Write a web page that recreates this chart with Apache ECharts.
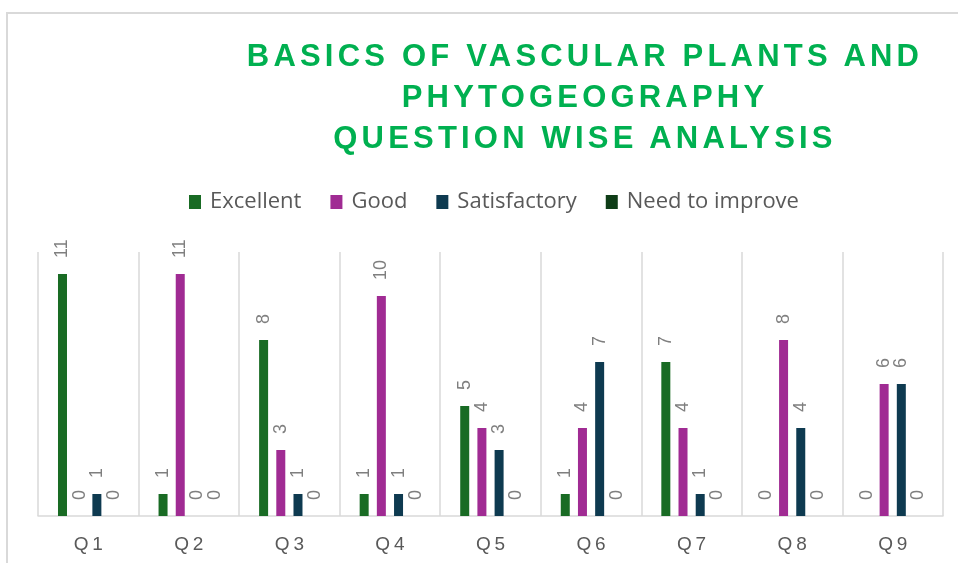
<!DOCTYPE html>
<html>
<head>
<meta charset="utf-8">
<script src="https://cdn.jsdelivr.net/npm/echarts@6/dist/echarts.min.js"></script>
<style>
  html, body { margin: 0; padding: 0; background: #fff; }
  #wrap { position: relative; width: 958px; height: 563px; overflow: hidden; }
  #chart { position: absolute; left: 0; top: 0; width: 958px; height: 563px; }
  #title {
    position: absolute; left: 181px; top: 35px; width: 800px;
    text-align: center; color: #00b050;
    font-family: "Liberation Sans", Arial, sans-serif; font-weight: bold;
    font-size: 31px; line-height: 41px; letter-spacing: 4.2px; padding-left: 4px;
    pointer-events: none; white-space: nowrap;
  }
</style>
</head>
<body>
<div id="wrap">
  <div id="chart"></div>
  <div id="title">BASICS OF VASCULAR PLANTS AND<br>PHYTOGEOGRAPHY<br>QUESTION WISE ANALYSIS</div>
</div>
<script>
const categories = ['Q1', 'Q2', 'Q3', 'Q4', 'Q5', 'Q6', 'Q7', 'Q8', 'Q9']
const excellent = [11, 1, 8, 1, 5, 1, 7, 0, 0]
const good = [0, 11, 3, 10, 4, 4, 4, 8, 6]
const satisfactory = [1, 0, 1, 1, 3, 7, 1, 4, 6]
const needToImprove = [0, 0, 0, 0, 0, 0, 0, 0, 0]

const seriesNames = ['Excellent', 'Good', 'Satisfactory', 'Need to improve']
const seriesData = [excellent, good, satisfactory, needToImprove]
const colors = ['#196b24', '#a02b93', '#0e3a50', '#0f3d17']

const myChart = echarts.init(document.getElementById('chart'))

const option = {
  animation: false,
  color: colors,
  graphic: [{
    type: 'rect',
    shape: { x: 7, y: 13, width: 1000, height: 600 },
    style: { fill: 'none', stroke: '#d9d9d9', lineWidth: 2 },
    silent: true
  }],
  legend: {
    top: 186,
    left: 184,
    itemWidth: 12,
    itemHeight: 14,
    itemGap: 29,
    icon: 'rect',
    textStyle: {
      color: '#595959',
      fontSize: 22,
      fontFamily: 'Open Sans',
      padding: [0, 0, 0, 4]
    },
    data: seriesNames
  },
  grid: {
    left: 38,
    right: 15,
    top: 252,
    bottom: 47
  },
  xAxis: {
    type: 'category',
    data: categories,
    axisLine: { lineStyle: { color: '#d9d9d9', width: 1.5 } },
    axisTick: { show: false },
    splitLine: { show: true, lineStyle: { color: '#d9d9d9', width: 1.5 } },
    axisLabel: {
      color: '#595959',
      fontSize: 19,
      fontFamily: 'Liberation Sans',
      margin: 19,
      formatter: (v) => v.split('').join('\u2009')
    }
  },
  yAxis: {
    type: 'value',
    min: 0,
    max: 12,
    show: false,
    splitLine: { show: false }
  },
  series: seriesNames.map((name, i) => ({
    name,
    type: 'bar',
    data: seriesData[i],
    barWidth: 9,
    barGap: '91%',
    label: {
      show: true,
      position: 'top',
      rotate: 90,
      align: 'left',
      verticalAlign: 'middle',
      distance: 16,
      color: '#7f7f7f',
      fontSize: 18,
      fontFamily: 'Liberation Sans'
    }
  }))
}

myChart.setOption(option)
</script>
</body>
</html>
